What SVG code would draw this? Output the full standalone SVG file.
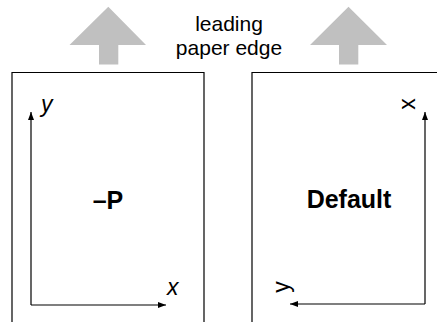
<svg xmlns="http://www.w3.org/2000/svg" width="437" height="322" viewBox="0 0 437 322">
<style>
text{font-family:"Liberation Sans",Arial,Helvetica,sans-serif;fill:#000}
.lbl{font-size:21px;text-anchor:middle}
.big{font-size:25px;font-weight:bold;text-anchor:middle}
.ax{font-size:23px}
.it{font-style:italic}
.frame{fill:none;stroke:#000;stroke-width:1.2}
.axis{fill:none;stroke:#000;stroke-width:1.2}
.gray{fill:#c0c0c0}
</style>
<defs>
<marker id="ah" viewBox="0 0 8 6" refX="8" refY="3" markerWidth="8" markerHeight="6" markerUnits="userSpaceOnUse" orient="auto">
<path d="M0,0 L8,3 L0,6 z" fill="#000"/>
</marker>
</defs>
<g id="arrow-left">
<polygon class="gray" points="108.3,6.7 146,45 118.3,45 118.3,64.5 99,64.5 99,45 69.5,45"/>
</g>
<g id="arrow-right">
<polygon class="gray" points="348.5,6.7 387,45 358.3,45 358.3,64.5 339,64.5 339,45 310,45"/>
</g>
<g id="label-leading">
<text class="lbl" x="229" y="31">leading</text>
<text class="lbl" x="229" y="55">paper edge</text>
</g>
<g id="page-p">
<path class="frame" d="M12,322 V72.5 H204 V322"/>
<text class="big" x="108" y="209">–P</text>
<text class="ax it" x="41" y="112">y</text>
<text class="ax it" x="167" y="295">x</text>
</g>
<g id="page-default">
<path class="frame" d="M252,322 V72.5 H440"/>
<text class="big" x="349" y="208">Default</text>
<text class="ax" text-anchor="middle" transform="translate(415,104) rotate(-90)" x="0" y="0">x</text>
<text class="ax" text-anchor="middle" transform="translate(289,287) rotate(-90)" x="0" y="0">y</text>
</g>
<g id="connectors">
<path class="axis" d="M31,305 V112" marker-end="url(#ah)"/>
<path class="axis" d="M31,305 H166" marker-end="url(#ah)"/>
<path class="axis" d="M425,304 V112" marker-end="url(#ah)"/>
<path class="axis" d="M425,304 H290" marker-end="url(#ah)"/>
</g>
</svg>
